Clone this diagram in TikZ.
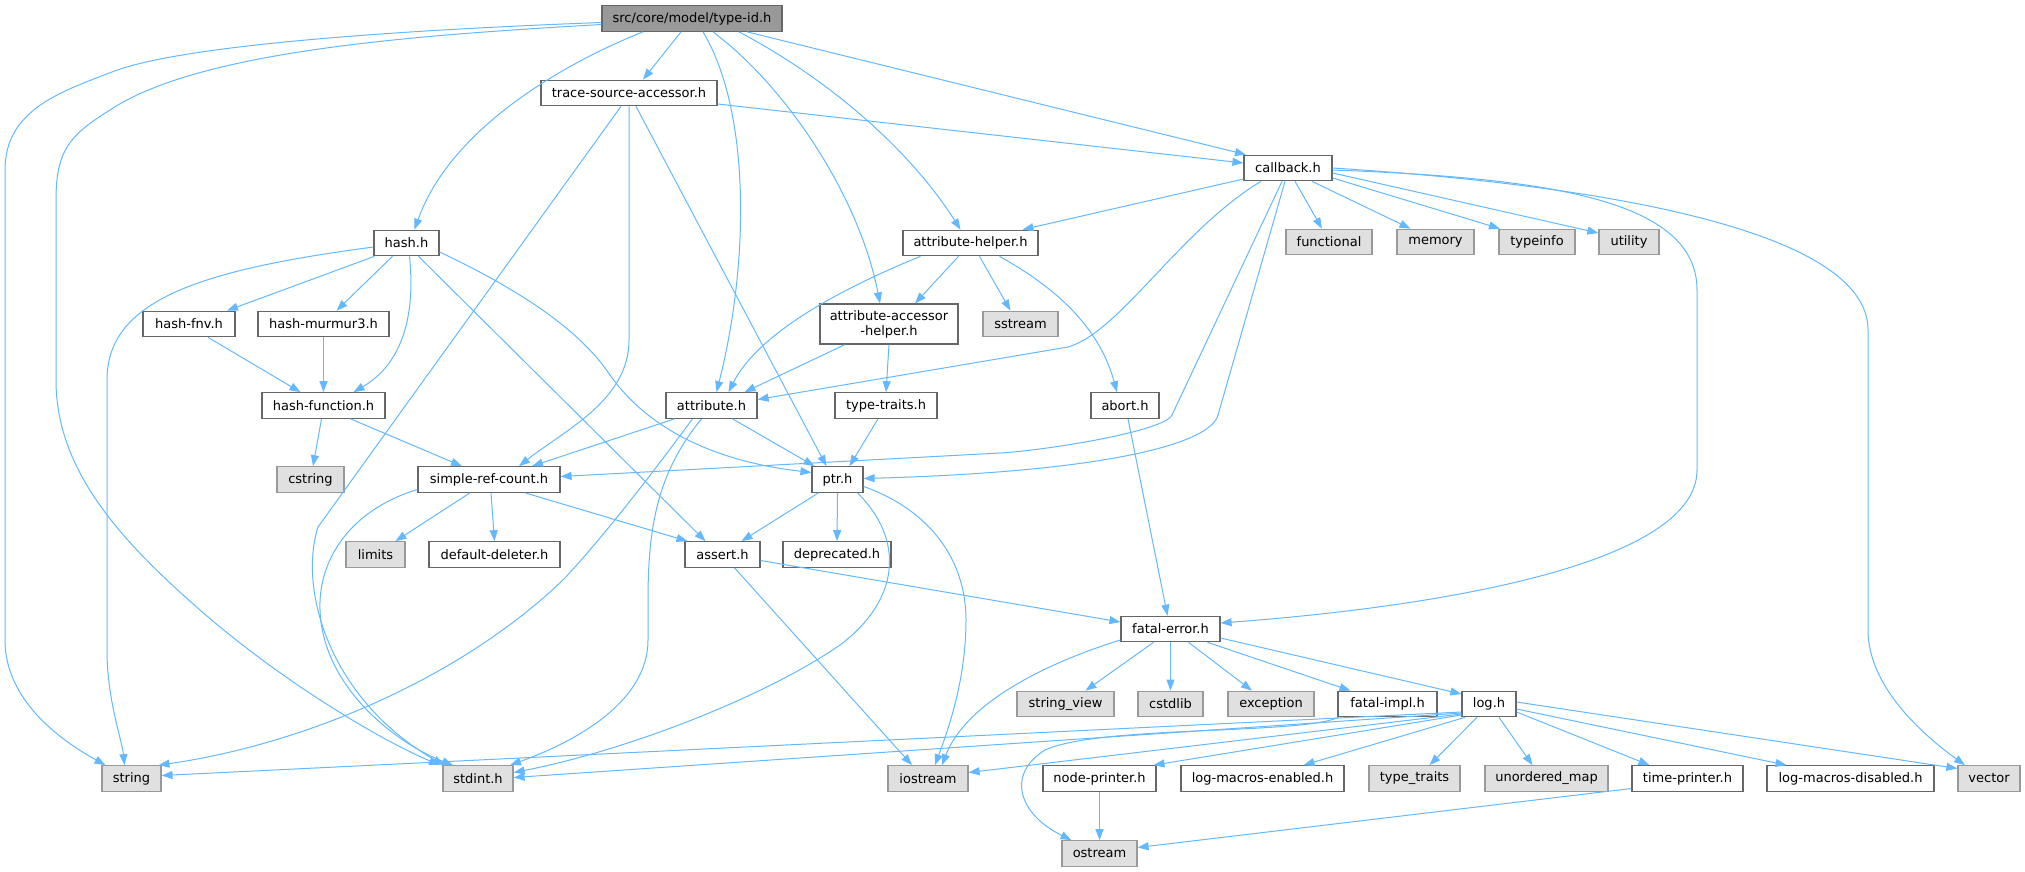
\documentclass[tikz,border=0pt]{standalone}
\usepackage{fontspec}
\setmainfont{DejaVu Sans}
\usetikzlibrary{arrows.meta}
\definecolor{edgecol}{HTML}{63B8FF}
\definecolor{extfill}{HTML}{E0E0E0}
\definecolor{extdraw}{HTML}{999999}
\definecolor{intdraw}{HTML}{666666}
\definecolor{rootfill}{HTML}{999999}
\begin{document}
\begin{tikzpicture}[x=1pt,y=-1pt,
  every node/.style={font=\fontsize{13}{15}\selectfont, inner sep=0pt, minimum height=25.5pt, line width=1.2pt, text=black},
  ibox/.style={draw=intdraw, fill=white},
  ebox/.style={draw=extdraw, fill=extfill},
  rbox/.style={draw=intdraw, fill=rootfill},
  dep/.style={draw=edgecol, line width=1pt, -{Triangle[length=11pt,width=8pt]}}]
\useasboundingbox (0,0) rectangle (2025,872);
% nodes
\node[rbox, minimum width=180pt] (typeid) at (692,18.5) {src/core/model/type-id.h};
\node[ibox, minimum width=176pt] (tsa) at (629,93) {trace-source-accessor.h};
\node[ibox, minimum width=88pt] (callback) at (1288,168) {callback.h};
\node[ibox, minimum width=65pt] (hash) at (406.5,243) {hash.h};
\node[ibox, minimum width=135pt] (attrhelper) at (970.5,243) {attribute-helper.h};
\node[ebox, minimum width=86pt] (functional) at (1329,242) {functional};
\node[ebox, minimum width=77pt] (memory) at (1435.5,242) {memory};
\node[ebox, minimum width=76pt] (typeinfo) at (1537,242) {typeinfo};
\node[ebox, minimum width=60pt] (utility) at (1629,242) {utility};
\node[ibox, minimum width=92pt] (hashfnv) at (189,324) {hash-fnv.h};
\node[ibox, minimum width=131pt] (murmur) at (323.5,324) {hash-murmur3.h};
\node[ibox, minimum width=138pt, minimum height=40pt, align=center] (accessor) at (889,324) {attribute-accessor\\-helper.h};
\node[ebox, minimum width=75pt] (sstream) at (1020.5,324) {sstream};
\node[ibox, minimum width=123pt] (hashfunc) at (323.5,405.5) {hash-function.h};
\node[ibox, minimum width=91pt] (attribute) at (711.5,405.5) {attribute.h};
\node[ibox, minimum width=102pt] (typetraits) at (886,405.5) {type-traits.h};
\node[ibox, minimum width=68pt] (abort) at (1125,405.5) {abort.h};
\node[ebox, minimum width=67pt] (cstring) at (310.5,479.5) {cstring};
\node[ibox, minimum width=142pt] (simpleref) at (489,479.5) {simple-ref-count.h};
\node[ibox, minimum width=51pt] (ptr) at (837.5,479.5) {ptr.h};
\node[ebox, minimum width=59pt] (limits) at (375.5,554.5) {limits};
\node[ibox, minimum width=131pt] (deleter) at (494.5,554.5) {default-deleter.h};
\node[ibox, minimum width=75pt] (assert) at (722.5,554.5) {assert.h};
\node[ibox, minimum width=108pt] (deprecated) at (837,554.5) {deprecated.h};
\node[ibox, minimum width=99pt] (fatalerror) at (1170.5,629) {fatal-error.h};
\node[ebox, minimum width=97pt] (stringview) at (1065.5,704) {string\_view};
\node[ebox, minimum width=65pt] (cstdlib) at (1170.5,704) {cstdlib};
\node[ebox, minimum width=86pt] (exception) at (1271,704) {exception};
\node[ibox, minimum width=99pt] (fatalimpl) at (1387.5,704) {fatal-impl.h};
\node[ibox, minimum width=54pt] (log) at (1489,704) {log.h};
\node[ebox, minimum width=59pt] (string) at (131.5,778.5) {string};
\node[ebox, minimum width=70pt] (stdint) at (478,778.5) {stdint.h};
\node[ebox, minimum width=80pt] (iostream) at (928,778.5) {iostream};
\node[ibox, minimum width=113pt] (nodeprinter) at (1099.5,778.5) {node-printer.h};
\node[ibox, minimum width=163pt] (logen) at (1262.5,778.5) {log-macros-enabled.h};
\node[ebox, minimum width=91pt] (typetraitsstd) at (1414.5,778.5) {type\_traits};
\node[ebox, minimum width=123pt] (umap) at (1546.5,778.5) {unordered\_map};
\node[ibox, minimum width=111pt] (timeprinter) at (1687.5,778.5) {time-printer.h};
\node[ibox, minimum width=167pt] (logdis) at (1850.5,778.5) {log-macros-disabled.h};
\node[ebox, minimum width=62pt] (vector) at (1989,778.5) {vector};
\node[ebox, minimum width=75pt] (ostream) at (1099.5,853.5) {ostream};
% edges from type-id.h
\draw[dep] ([yshift=-4pt]typeid.west) .. controls (400,30) and (180,45) .. (112,72) .. controls (60,92) and (5,110) .. (5,170) -- (5,640) .. controls (5,700) and (60,740) .. ([xshift=-26pt]string.north);
\draw[dep] ([yshift=-6pt]typeid.west) .. controls (420,35) and (200,50) .. (110,110) .. controls (70,135) and (56,150) .. (56,200) -- (56,380) .. controls (56,470) and (120,540) .. (200,610) .. controls (280,680) and (380,740) .. ([xshift=-38pt]stdint.north);
\draw[dep] ([xshift=-49pt]typeid.south) .. controls (560,65) and (450,130) .. ([xshift=8pt]hash.north);
\draw[dep] ([xshift=-11pt]typeid.south) -- ([xshift=14pt]tsa.north);
\draw[dep] ([xshift=11pt]typeid.south) .. controls (750,110) and (750,260) .. ([xshift=5pt]attribute.north);
\draw[dep] ([xshift=21pt]typeid.south) .. controls (790,90) and (860,200) .. ([xshift=-9pt]accessor.north);
\draw[dep] ([xshift=47pt]typeid.south) .. controls (830,80) and (910,150) .. ([xshift=-10pt]attrhelper.north);
\draw[dep] ([xshift=55pt]typeid.south) -- ([xshift=-42pt]callback.north);
% trace-source-accessor.h
\draw[dep] ([yshift=-11pt]tsa.east) -- ([yshift=5pt]callback.west);
\draw[dep] ([xshift=-8pt]tsa.south) -- (318,527) .. controls (298,590) and (330,700) .. ([xshift=-34pt]stdint.north);
\draw[dep] (tsa.south) -- (629,340) .. controls (629,400) and (565,430) .. ([xshift=30pt]simpleref.north);
\draw[dep] ([xshift=7pt]tsa.south) -- ([xshift=-11pt]ptr.north);
% callback.h
\draw[dep] ([yshift=-11pt]callback.west) -- ([xshift=52pt]attrhelper.north);
\draw[dep] ([xshift=-27pt]callback.south) .. controls (1180,230) and (1120,332) .. (1068,347) -- ([yshift=6pt]attribute.east);
\draw[dep] ([xshift=-6pt]callback.south) -- (1172,415) .. controls (1164,432) and (1040,451) .. (1000,453) -- ([yshift=3pt]simpleref.east);
\draw[dep] ([xshift=-3pt]callback.south) -- (1218,415) .. controls (1210,445) and (1100,472) .. ([yshift=1pt]ptr.east);
\draw[dep] ([xshift=7pt]callback.south) -- ([xshift=-7pt]functional.north);
\draw[dep] ([xshift=24pt]callback.south) -- ([xshift=-25pt]memory.north);
\draw[dep] ([yshift=-10pt]callback.east) -- ([xshift=-37pt]typeinfo.north);
\draw[dep] ([yshift=-5pt]callback.east) -- ([yshift=9pt]utility.west);
\draw[dep] ([yshift=-2pt]callback.east) .. controls (1550,178) and (1697,200) .. (1697,290) -- (1697,470) .. controls (1697,560) and (1460,605) .. ([yshift=6pt]fatalerror.east);
\draw[dep] ([yshift=0pt]callback.east) .. controls (1600,185) and (1868,230) .. (1868,330) -- (1868,630) .. controls (1868,690) and (1930,740) .. ([xshift=-24pt]vector.north);
% attribute-helper.h
\draw[dep] ([xshift=-12pt]attrhelper.south) -- ([xshift=26pt]accessor.north);
\draw[dep] ([xshift=9pt]attrhelper.south) -- ([xshift=-10pt]sstream.north);
\draw[dep] ([xshift=29pt]attrhelper.south) .. controls (1060,290) and (1100,330) .. ([xshift=-8pt]abort.north);
\draw[dep] ([xshift=-50pt]attrhelper.south) .. controls (850,285) and (760,330) .. ([xshift=17pt]attribute.north);
% accessor, type-traits, abort
\draw[dep] ([xshift=-44pt]accessor.south) -- ([xshift=33pt]attribute.north);
\draw[dep] (accessor.south) -- (typetraits.north);
\draw[dep] ([xshift=-8pt]typetraits.south) -- ([xshift=12pt]ptr.north);
\draw[dep] ([xshift=3pt]abort.south) -- ([xshift=-3pt]fatalerror.north);
% attribute.h
\draw[dep] ([xshift=-37pt]attribute.south) -- ([xshift=43pt]simpleref.north);
\draw[dep] ([xshift=21pt]attribute.south) -- ([xshift=-23pt]ptr.north);
\draw[dep] ([xshift=-19pt]attribute.south) .. controls (640,490) and (600,540) .. (565,578) .. controls (460,680) and (300,745) .. ([xshift=27pt]string.north);
\draw[dep] ([xshift=-10pt]attribute.south) .. controls (660,470) and (648,520) .. (648,600) -- (648,640) .. controls (648,700) and (580,740) .. ([xshift=32pt]stdint.north);
% hash.h
\draw[dep] ([yshift=-4pt]hash.west) .. controls (200,270) and (107,300) .. (107,380) -- (107,650) .. controls (107,700) and (122,740) .. ([xshift=-7pt]string.north);
\draw[dep] ([xshift=-32pt]hash.south) -- ([xshift=38pt]hashfnv.north);
\draw[dep] ([xshift=-14pt]hash.south) -- ([xshift=13pt]murmur.north);
\draw[dep] ([xshift=3pt]hash.south) .. controls (416,320) and (400,365) .. ([xshift=30pt]hashfunc.north);
\draw[dep] ([xshift=12pt]hash.south) -- ([xshift=-17pt]assert.north);
\draw[dep] ([yshift=-9pt]hash.east) .. controls (520,290) and (580,330) .. (610,375) .. controls (650,432) and (720,462) .. ([yshift=7pt]ptr.west);
% hash family
\draw[dep] ([xshift=19pt]hashfnv.south) -- ([xshift=-23pt]hashfunc.north);
\draw[dep] (murmur.south) -- (hashfunc.north);
\draw[dep] ([xshift=-2pt]hashfunc.south) -- ([xshift=2.5pt]cstring.north);
\draw[dep] ([xshift=27pt]hashfunc.south) -- ([xshift=-27pt]simpleref.north);
% simple-ref-count.h
\draw[dep] ([xshift=-19pt]simpleref.south) -- ([xshift=20pt]limits.north);
\draw[dep] ([xshift=2pt]simpleref.south) -- (deleter.north);
\draw[dep] ([xshift=36pt]simpleref.south) -- ([xshift=-35pt]assert.north);
\draw[dep] ([yshift=-10pt]simpleref.west) .. controls (350,510) and (318,560) .. (320,610) .. controls (323,690) and (400,745) .. ([xshift=-25pt]stdint.north);
% ptr.h
\draw[dep] ([xshift=-19pt]ptr.south) -- ([xshift=19pt]assert.north);
\draw[dep] (ptr.south) -- (deprecated.north);
\draw[dep] ([yshift=-7pt]ptr.east) .. controls (930,510) and (966,560) .. (966,620) .. controls (966,680) and (948,730) .. ([xshift=7pt]iostream.north);
\draw[dep] ([xshift=20pt]ptr.south) .. controls (905,540) and (900,600) .. (840,645) .. controls (760,700) and (620,752) .. ([yshift=6pt]stdint.east);
% assert.h
\draw[dep] ([yshift=-6pt]assert.east) -- ([yshift=7pt]fatalerror.west);
\draw[dep] ([xshift=12pt]assert.south) -- ([xshift=-16pt]iostream.north);
% fatal-error.h
\draw[dep] ([yshift=-11pt]fatalerror.west) .. controls (1040,665) and (965,705) .. ([xshift=14pt]iostream.north);
\draw[dep] ([xshift=-17pt]fatalerror.south) -- ([xshift=20pt]stringview.north);
\draw[dep] (fatalerror.south) -- (cstdlib.north);
\draw[dep] ([xshift=18pt]fatalerror.south) -- ([xshift=-19pt]exception.north);
\draw[dep] ([xshift=37pt]fatalerror.south) -- ([xshift=-37pt]fatalimpl.north);
\draw[dep] ([yshift=-9pt]fatalerror.east) -- ([yshift=10pt]log.west);
% fatal-impl.h
\draw[dep] ([xshift=-49pt]fatalimpl.south) .. controls (1300,735) and (1100,725) .. (1045,750) .. controls (1005,775) and (1020,815) .. ([xshift=-28pt]ostream.north);
% log.h
\draw[dep] ([yshift=-8pt]log.west) -- ([yshift=3pt]string.east);
\draw[dep] ([yshift=-9pt]log.west) -- ([yshift=1pt]stdint.east);
\draw[dep] ([yshift=-10pt]log.west) -- ([yshift=6pt]iostream.east);
\draw[dep] ([yshift=-11pt]log.west) -- ([xshift=54pt]nodeprinter.north);
\draw[dep] ([xshift=-24pt]log.south) -- ([xshift=41pt]logen.north);
\draw[dep] ([xshift=-12pt]log.south) -- ([xshift=15pt]typetraitsstd.north);
\draw[dep] ([xshift=10pt]log.south) -- ([xshift=-14pt]umap.north);
\draw[dep] ([yshift=-8pt]log.east) -- ([xshift=-38pt]timeprinter.north);
\draw[dep] ([yshift=-5pt]log.east) -- ([xshift=-64pt]logdis.north);
\draw[dep] ([yshift=2pt]log.east) -- ([yshift=10pt]vector.west);
% printers
\draw[dep] (nodeprinter.south) -- (ostream.north);
\draw[dep] ([yshift=-10pt]timeprinter.west) -- ([yshift=6pt]ostream.east);
\end{tikzpicture}
\end{document}
